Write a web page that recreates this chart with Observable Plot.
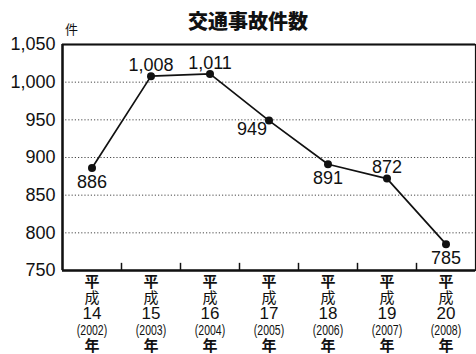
<!DOCTYPE html>
<html>
<head>
<meta charset="utf-8">
<script src="https://cdn.jsdelivr.net/npm/d3@7"></script>
<script src="https://cdn.jsdelivr.net/npm/@observablehq/plot@0.6"></script>
<style>
  html, body { margin: 0; padding: 0; background: #fff; }
</style>
</head>
<body>
<div id="chart"></div>
<script>
const title = "交通事故件数";
const unitLabel = "件";
const eraYears = ["14", "15", "16", "17", "18", "19", "20"];
const westernYears = ["2002", "2003", "2004", "2005", "2006", "2007", "2008"];
const accidents = [886, 1008, 1011, 949, 891, 872, 785];
const yTicks = [750, 800, 850, 900, 950, 1000, 1050];
const aboveLabels = ["15", "16", "19"];
const leftLabels = ["17"];

const data = eraYears.map((y, i) => ({year: y, western: westernYears[i], value: accidents[i]}));
const gridValues = yTicks.slice(1, -1);

const W = 476, H = 354, mL = 62, mR = 1, mT = 44, mB = 84;
const bw = (W - mL - mR) / eraYears.length;
const num = "Liberation Sans, Arial, sans-serif";
const cjk = "Noto Sans CJK JP, sans-serif";
const fmt = d3.format(",");

const xLabel = (text, dy, extra) => Plot.text(data, Object.assign({
  x: "year", text, frameAnchor: "bottom", lineAnchor: "middle", dy, fill: "#111"
}, extra));

const chart = Plot.plot({
  width: W, height: H,
  marginLeft: mL, marginRight: mR, marginTop: mT, marginBottom: mB,
  style: {fontFamily: num, fontSize: "18px", color: "#111", background: "#fff"},
  x: {type: "band", domain: eraYears, padding: 0, axis: null},
  y: {domain: [750, 1050], ticks: yTicks, tickFormat: fmt, tickSize: 0, tickPadding: 7, label: null},
  marks: [
    Plot.ruleY(gridValues, {stroke: "#333", strokeWidth: 0.9, strokeDasharray: "1.2,2"}),
    Plot.frame({stroke: "#111", strokeWidth: 1.2}),
    Plot.ruleY([1050], {stroke: "#111", strokeWidth: 2}),
    Plot.ruleY([750], {stroke: "#111", strokeWidth: 2.5}),
    Plot.ruleX(data.slice(0, 1), {x: "year", dx: -bw / 2, stroke: "#111", strokeWidth: 2.5}),
    Plot.ruleX(data.slice(1), {x: "year", dx: -bw / 2, y1: 750, y2: 759.5, stroke: "#111", strokeWidth: 1.5}),
    Plot.line(data, {x: "year", y: "value", stroke: "#111", strokeWidth: 1.7}),
    Plot.dot(data, {x: "year", y: "value", r: 4, fill: "#111", stroke: "none"}),
    Plot.text(data, {filter: d => aboveLabels.includes(d.year), x: "year", y: "value", text: d => fmt(d.value), dy: -11, fontSize: 18, fill: "#111"}),
    Plot.text(data, {filter: d => leftLabels.includes(d.year), x: "year", y: "value", text: d => fmt(d.value), dx: -17, dy: 9, fontSize: 18, fill: "#111"}),
    Plot.text(data, {filter: d => !aboveLabels.includes(d.year) && !leftLabels.includes(d.year), x: "year", y: "value", text: d => fmt(d.value), dy: 14, fontSize: 18, fill: "#111"}),
    // x labels
    xLabel(() => "平", 11.5, {fontSize: 15, fontFamily: cjk, fontWeight: "bold"}),
    xLabel(() => "成", 28, {fontSize: 15, fontFamily: cjk}),
    xLabel("year", 43.5, {fontSize: 17}),
    xLabel(d => "(" + d.western + ")", 60, {fontSize: 15, className: "western"}),
    xLabel(() => "年", 75.5, {fontSize: 15, fontFamily: cjk, fontWeight: "bold"}),
    // title and unit
    Plot.text([title], {frameAnchor: "top", lineAnchor: "middle", dx: -21, dy: -22, fontSize: 20, fontWeight: 900, fontFamily: cjk, fill: "#111"}),
    Plot.text([unitLabel], {frameAnchor: "top-left", lineAnchor: "middle", dx: 9, dy: -14.5, textAnchor: "middle", fontSize: 13, fontFamily: cjk, fill: "#111"})
  ]
});

d3.select(chart).selectAll(".western text").each(function() {
  const t = this.getAttribute("transform") || "";
  this.setAttribute("transform", t + " scale(0.7,1)");
});
document.getElementById("chart").appendChild(chart);
</script>
</body>
</html>
